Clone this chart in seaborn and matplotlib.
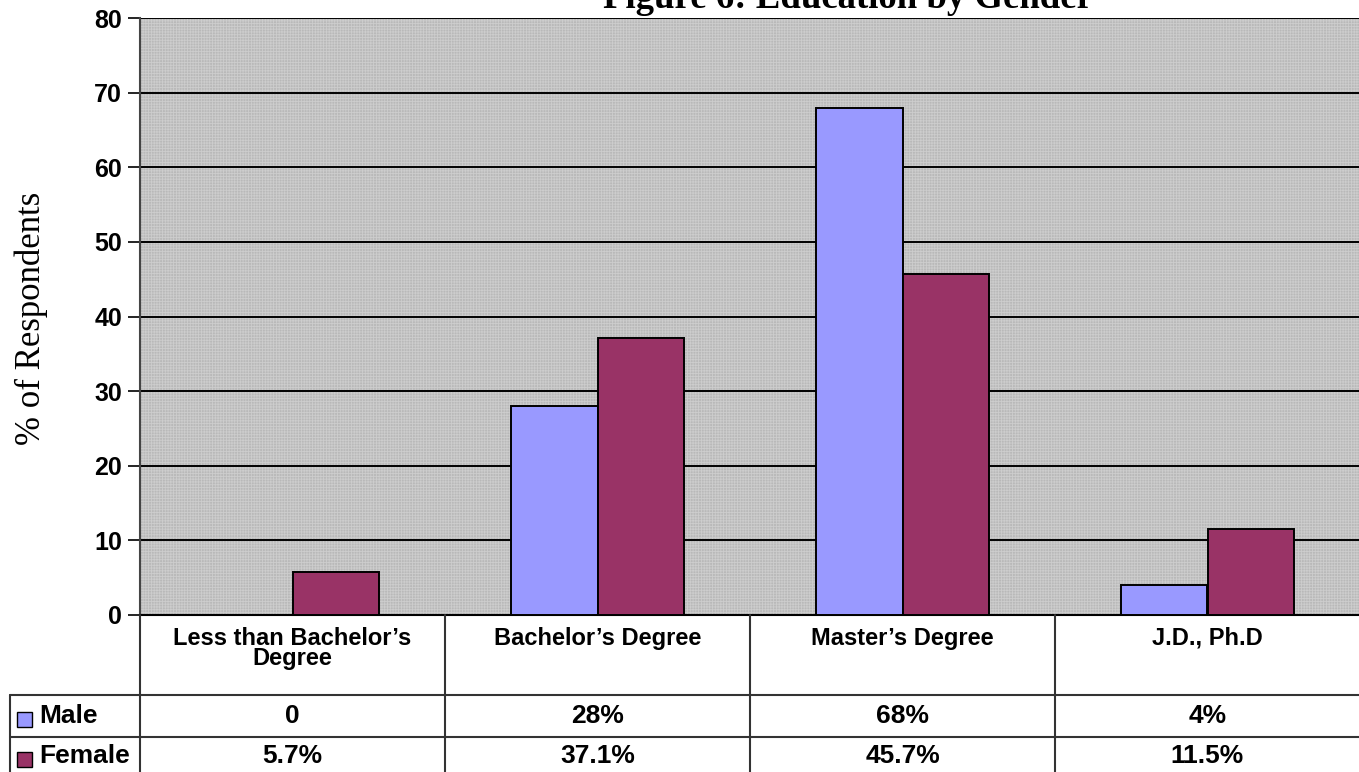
import matplotlib
matplotlib.use("Agg")
import matplotlib.pyplot as plt
from matplotlib.patches import Rectangle
import pandas as pd
import seaborn as sns

# Education level by gender (% of respondents)
categories = ["Less than Bachelor\u2019s\nDegree", "Bachelor\u2019s Degree",
              "Master\u2019s Degree", "J.D., Ph.D"]
male = [0, 28, 68, 4]
female = [5.7, 37.1, 45.7, 11.5]
series = ["Male", "Female"]
colors = {"Male": "#9999FF", "Female": "#993366"}
yticks = [0, 10, 20, 30, 40, 50, 60, 70, 80]

df = pd.DataFrame({
    "category": categories * 2,
    "gender": ["Male"] * len(categories) + ["Female"] * len(categories),
    "value": male + female,
})

sns.set_theme(style="white")
plt.rcParams["font.family"] = ["Liberation Sans", "DejaVu Sans"]
plt.rcParams["text.color"] = "black"
plt.rcParams["ytick.color"] = "black"
plt.rcParams["axes.labelcolor"] = "black"
plt.rcParams["hatch.linewidth"] = 0.6

W, H = 1359, 772
fig = plt.figure(figsize=(W / 100, H / 100), dpi=100)
ax_left, ax_right, ax_top, ax_bot = 140, 1360, 18, 615
ax = fig.add_axes([ax_left / W, 1 - ax_bot / H, (ax_right - ax_left) / W, (ax_bot - ax_top) / H])

# textured grey plot area
ax.set_facecolor("#bcbcbc")
ax.add_patch(Rectangle((0, 0), 1, 1, transform=ax.transAxes, facecolor="#b9b9b9",
                       edgecolor="#cdcdcd", hatch="++++++", linewidth=0, zorder=0))

sns.barplot(data=df, x="category", y="value", hue="gender", hue_order=series,
            palette=colors, saturation=1, width=0.57, edgecolor="black", linewidth=1.4,
            legend=False, ax=ax, zorder=3)

ax.set_ylim(0, 80)
ax.set_xlim(-0.5, len(categories) - 0.5)
ax.set_yticks(yticks)
ax.set_yticklabels([str(t) for t in yticks], fontsize=18, fontweight="bold", color="black")
ax.tick_params(axis="y", direction="out", length=9, width=1.2, color="black", pad=4, left=True)
ax.set_xticks([])
ax.set_xlabel("")
for t in yticks[1:]:
    ax.axhline(t, color="black", linewidth=1.4, zorder=1)
for side in ["top", "right"]:
    ax.spines[side].set_visible(False)
ax.spines["left"].set_color("#444444")
ax.spines["left"].set_linewidth(1.5)
ax.spines["bottom"].set_color("black")
ax.spines["bottom"].set_linewidth(1.5)

ax.set_ylabel("% of Respondents", fontsize=25, family=["Liberation Serif", "DejaVu Serif"],
              labelpad=0, color="black")
ax.yaxis.set_label_coords((48 - ax_left) / (ax_right - ax_left), 0.497)

fig.text(848 / W, 1 - 8 / H, "Figure 6: Education by Gender", ha="center", va="baseline",
         fontsize=26.5, fontweight="bold", family=["Liberation Serif", "DejaVu Serif"])

# data table below the plot (figure pixel coordinates)
def fx(px):
    return px / W

def fy(py):
    return 1 - py / H

line_kw = dict(color="#333333", linewidth=1.5, transform=fig.transFigure)
col_w = (ax_right - ax_left) / len(categories)
row_top, row_mid, row_end = 695, 737, 772
fig.add_artist(plt.Line2D([fx(10), fx(W)], [fy(row_top), fy(row_top)], **line_kw))
fig.add_artist(plt.Line2D([fx(10), fx(W)], [fy(row_mid), fy(row_mid)], **line_kw))
fig.add_artist(plt.Line2D([fx(10), fx(10)], [fy(row_top), fy(row_end + 5)], **line_kw))
for i in range(len(categories)):
    x = ax_left + i * col_w
    fig.add_artist(plt.Line2D([fx(x), fx(x)], [fy(ax_bot), fy(row_end + 5)], **line_kw))


def fmt(v):
    if v == 0:
        return "0"
    return f"{v:g}%"


for i, cat in enumerate(categories):
    cx = ax_left + (i + 0.5) * col_w
    fig.text(fx(cx), fy(627), cat, ha="center", va="top", fontsize=17,
             fontweight="bold", linespacing=0.85)
    fig.text(fx(cx), fy(716), fmt(male[i]), ha="center", va="center",
             fontsize=19, fontweight="bold")
    fig.text(fx(cx), fy(756), fmt(female[i]), ha="center", va="center",
             fontsize=19, fontweight="bold")

for name, yc in zip(series, [717, 757]):
    fig.add_artist(Rectangle((fx(17), fy(yc + 10)), 15 / W, 15 / H, transform=fig.transFigure,
                             facecolor=colors[name], edgecolor="black", linewidth=1))
    fig.text(fx(39), fy(yc - 1), name, ha="left", va="center", fontsize=19, fontweight="bold")

fig.savefig("out.png", dpi=100)
